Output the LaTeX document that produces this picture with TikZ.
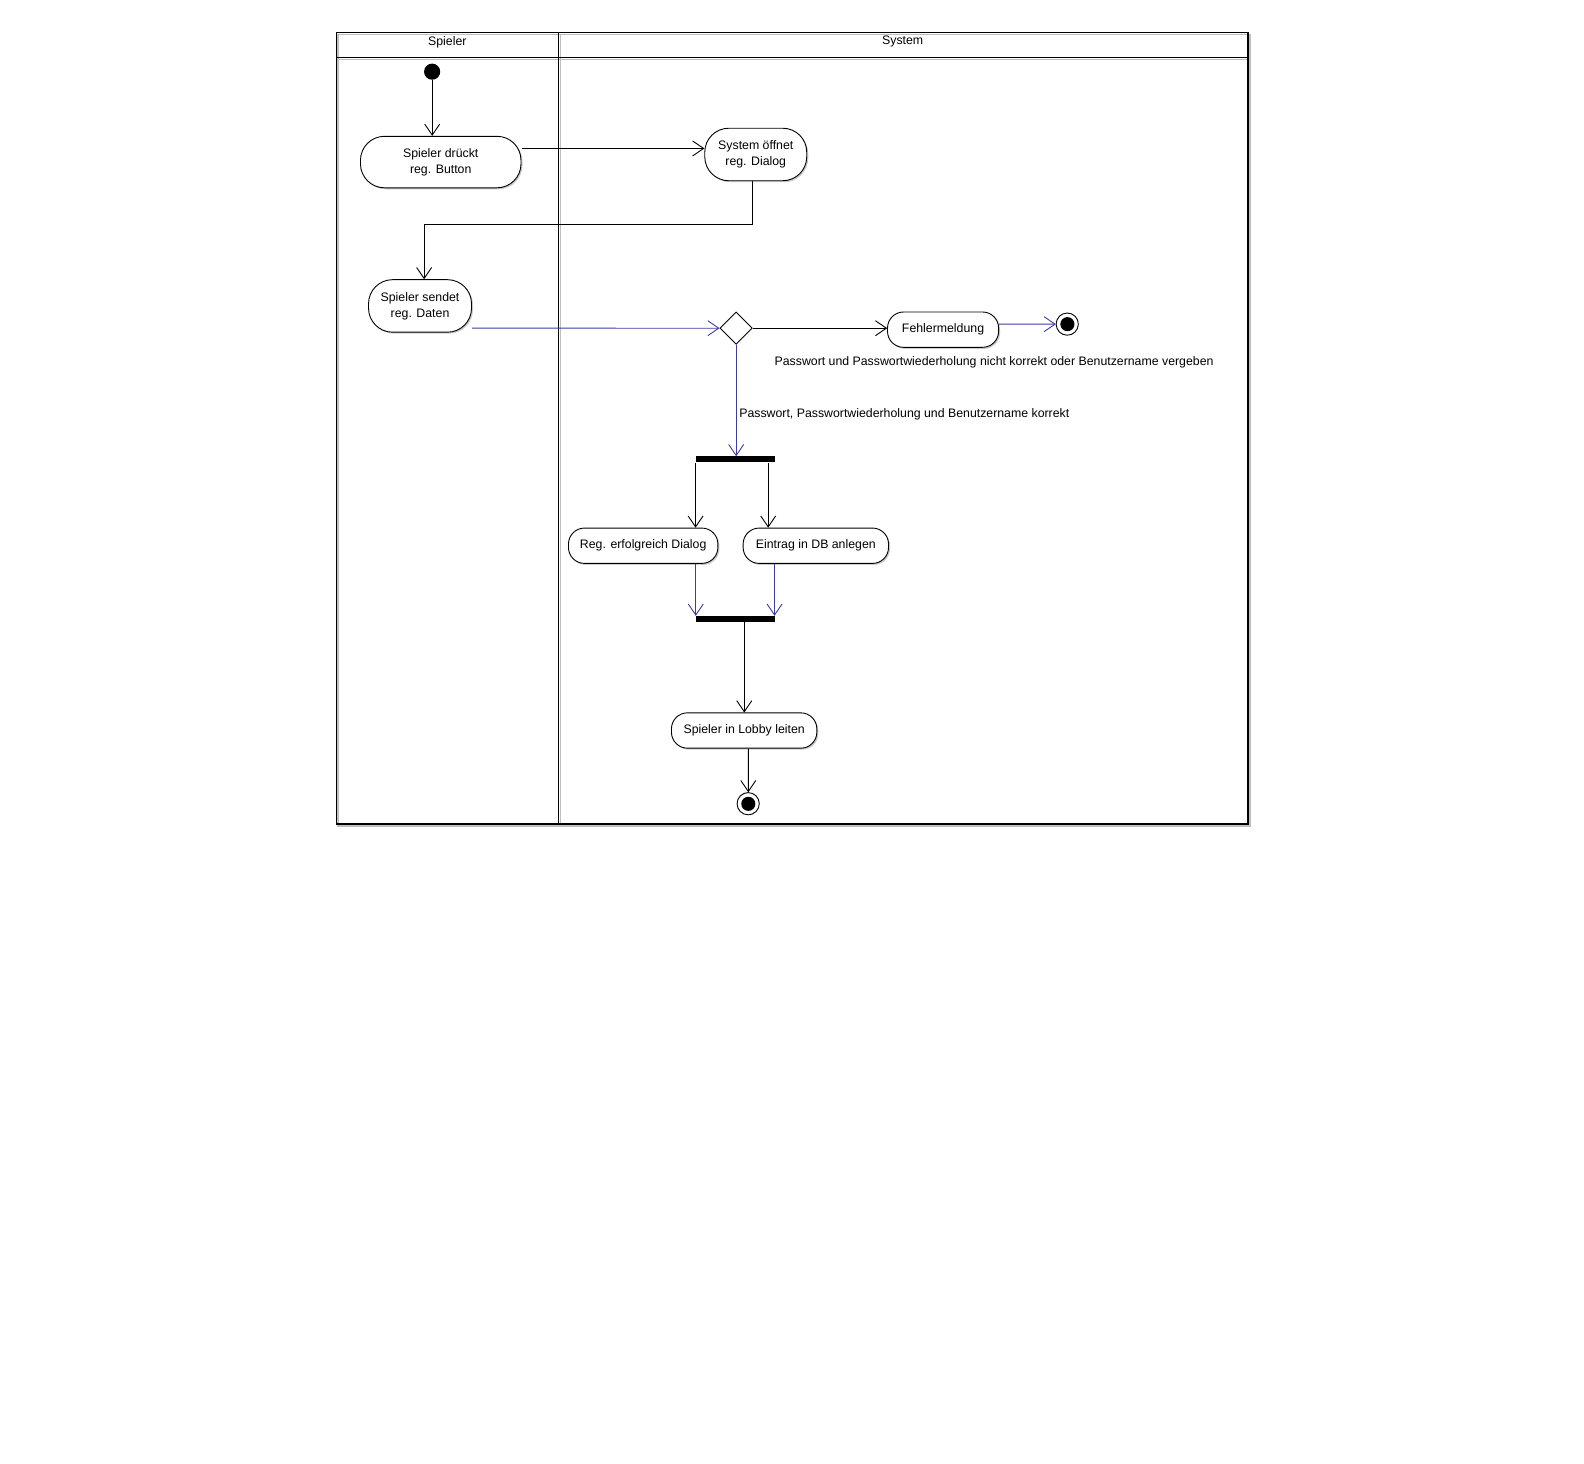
\documentclass[tikz,border=0pt]{standalone}
\usepackage{fontspec}
\setmainfont{Liberation Sans}
\usetikzlibrary{arrows.meta,shapes.geometric,shadows}
\definecolor{flowblue}{RGB}{60,60,160}
\tikzset{
  act/.style={draw=black, fill=white, line width=0.9pt, align=center, inner sep=0pt,
    font=\fontsize{12.2}{16}\selectfont,
    drop shadow={shadow xshift=1.5pt, shadow yshift=-1.5pt, fill=black!35, opacity=0.6}},
  tallact/.style={act, rounded corners=24pt},
  flatact/.style={act, rounded corners=16pt},
  barb/.style={-{Straight Barb[length=11pt,width=15pt]}},
  flow/.style={barb, line width=0.9pt, draw=black},
  bflow/.style={barb, line width=0.9pt, draw=flowblue},
  bar/.style={fill=black, draw=none, minimum width=79pt, minimum height=6pt, inner sep=0pt},
  lbl/.style={font=\fontsize{12.2}{14}\selectfont, inner sep=0pt},
  endout/.style={circle, draw=black, fill=white, line width=0.9pt, minimum size=22pt, inner sep=0pt},
  endin/.style={circle, fill=black, minimum size=14pt, inner sep=0pt},
  initnode/.style={circle, fill=black, minimum size=16pt, inner sep=0pt},
  decision/.style={diamond, draw=black, fill=white, line width=0.9pt, minimum width=32pt, minimum height=32pt, inner sep=0pt, aspect=1},
  frameline/.style={line width=1.2pt, draw=black},
  frameshadow/.style={line width=1.5pt, draw=black!25}
}
\begin{document}
\begin{tikzpicture}[x=1pt,y=-1pt,scale=1.0097,every node/.append style={transform shape}]
\useasboundingbox (0,0) rectangle (1568.8,1449.9);
% swimlanes (shadows first)
\begin{scope}[shift={(2,2)}]
\draw[frameshadow] (333,32) rectangle (1236,816);
\draw[frameshadow] (333,57) -- (1236,57);
\draw[frameshadow] (553,32) -- (553,816);
\end{scope}
\draw[frameline] (333,32) rectangle (1236,816);
\draw[frameline] (333,57) -- (1236,57);
\draw[frameline] (553,32) -- (553,816);
\node[lbl] (h1) at (443,41.5) {Spieler};
\node[lbl] (h2) at (894,41.5) {System};
% nodes
\node[initnode] (init) at (428,71) {};
\node[tallact, minimum width=159pt, minimum height=51pt] (A) at (436.5,160.5) {Spieler drückt\\reg. Button};
\node[tallact, minimum width=101pt, minimum height=52pt] (B) at (748.5,153) {System öffnet\\reg. Dialog};
\node[tallact, minimum width=102pt, minimum height=52pt] (C) at (416,303) {Spieler sendet\\reg. Daten};
\node[decision] (dec) at (729,325) {};
\node[flatact, minimum width=110pt, minimum height=35pt] (Fe) at (934,326.5) {Fehlermeldung};
\node[endout] (end1) at (1057,321) {};
\node[endin] (end1i) at (end1) {};
\node[lbl, anchor=west] (l1) at (767,358.5) {Passwort und Passwortwiederholung nicht korrekt oder Benutzername vergeben};
\node[lbl, anchor=west] (l2) at (732,410.5) {Passwort, Passwortwiederholung und Benutzername korrekt};
\node[bar] (fork) at (728.5,455) {};
\node[flatact, minimum width=148pt, minimum height=35pt] (D) at (637,540.5) {Reg. erfolgreich Dialog};
\node[flatact, minimum width=144pt, minimum height=35pt] (E) at (808,540.5) {Eintrag in DB anlegen};
\node[bar] (join) at (728.5,613) {};
\node[flatact, minimum width=144pt, minimum height=35pt] (F) at (737,723.5) {Spieler in Lobby leiten};
\node[endout] (end2) at (741,796) {};
\node[endin] (end2i) at (end2) {};
% connectors
\draw[flow] (init.south) -- (init.south |- A.north);
\draw[flow] ([yshift=13.5pt]A.east) -- ([yshift=13.5pt]A.east -| B.west);
\draw[flow] ([xshift=-3.5pt]B.south) -- ++(0,43) -| ([xshift=4pt]C.north);
\draw[bflow] ([yshift=-22pt]C.east) -- (dec.west);
\draw[flow] (dec.east) -- (dec.east -| Fe.west);
\draw[bflow] ([yshift=5.5pt]Fe.east) -- (end1.west);
\draw[bflow] (dec.south) -- (dec.south |- fork.north);
\draw[flow] (fork.south west) -- (fork.south west |- D.north);
\draw[flow] ([xshift=-7.5pt]fork.south east) -- ([xshift=-7.5pt]fork.south east |- E.north);
\draw[bflow] ([xshift=52pt]D.south) -- ([xshift=52pt]D.south |- join.north);
\draw[bflow] ([xshift=-41pt]E.south) -- ([xshift=-41pt]E.south |- join.north);
\draw[flow] ([xshift=8.5pt]join.south) -- ([xshift=8.5pt]join.south |- F.north);
\draw[flow] ([xshift=4pt]F.south) -- (end2.north);
\end{tikzpicture}
\end{document}
